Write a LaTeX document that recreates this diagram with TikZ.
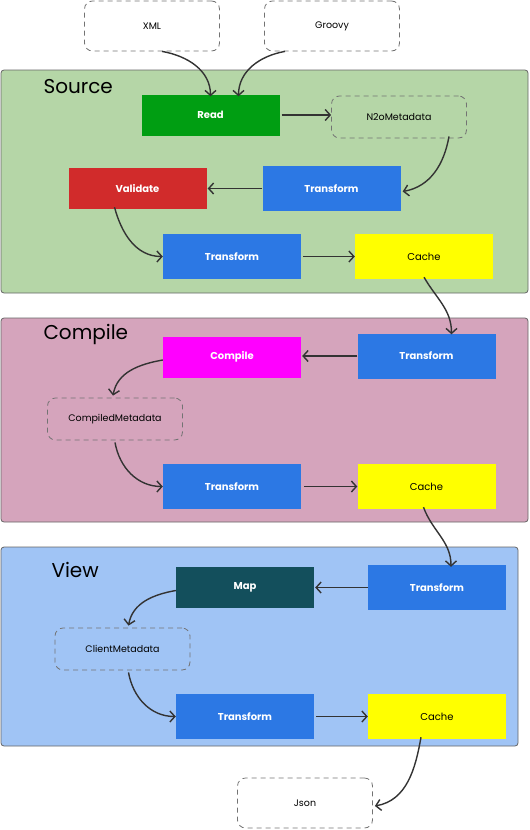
\documentclass[tikz,border=0pt]{standalone}
\usepackage{fontspec}
\setmainfont{Poppins}
\usepackage{xcolor}
\definecolor{PanelGreen}{HTML}{B5D6A7}
\definecolor{PanelPink}{HTML}{D5A4BC}
\definecolor{PanelBlue}{HTML}{A0C4F5}
\definecolor{ReadGreen}{HTML}{009E12}
\definecolor{CheckRed}{HTML}{D12B2B}
\definecolor{StepBlue}{HTML}{2C78E4}
\definecolor{CacheYellow}{HTML}{FFFF00}
\definecolor{CompMagenta}{HTML}{FF00FF}
\definecolor{MapTeal}{HTML}{134F5C}
\definecolor{FlowGray}{HTML}{333333}
\usetikzlibrary{arrows.meta}

\begin{document}
\begin{tikzpicture}[
    x=1pt, y=-1pt,
    panel/.style={draw=black!60, line width=0.8pt, rounded corners=3pt},
    title/.style={anchor=west, font=\fontsize{20}{22}\selectfont},
    box/.style={minimum width=138pt, minimum height=41pt, inner sep=0pt,
        font=\fontsize{10}{12}\selectfont\bfseries, text=white},
    stepbox/.style={box, fill=StepBlue, minimum height=45pt},
    cachebox/.style={box, fill=CacheYellow, text=black, minimum height=45pt,
        font=\fontsize{10}{12}\selectfont},
    databox/.style={draw=black!55, line width=0.8pt, dash pattern=on 5pt off 4pt,
        rounded corners=8pt, minimum width=135pt, minimum height=42pt, inner sep=0pt,
        font=\fontsize{9.5}{11}\selectfont},
    flow/.style={draw=FlowGray, line width=1.4pt,
        -{Straight Barb[length=5pt, width=11pt]}},
]
\useasboundingbox (0,0) rectangle (530,830);

% Panels
\fill[PanelGreen, panel] (1,70) rectangle (528,293);
\fill[PanelPink, panel]  (1,318) rectangle (528,522);
\fill[PanelBlue, panel]  (1,547) rectangle (518,746);
\node[title] (srcT)  at (40,87)  {Source};
\node[title] (compT) at (40,334) {Compile};
\node[title] (viewT) at (48,570) {View};

% Inputs
\node[databox, minimum height=50pt] (xml)    at (152,26) {XML};
\node[databox, minimum height=50pt] (groovy) at (332,26) {Groovy};

% Source stage
\node[box, fill=ReadGreen] (read)     at (210.5,115)   {Read};
\node[databox]             (n2o)      at (399,117)     {N2oMetadata};
\node[stepbox]             (srcTrA)   at (331.5,188.5) {Transform};
\node[box, fill=CheckRed]  (validate) at (137.5,188.5) {Validate};
\node[stepbox]             (srcTrB)   at (232,256.5)   {Transform};
\node[cachebox]            (srcCache) at (424,256.5)   {Cache};

% Compile stage
\node[stepbox]               (compTrA)   at (426.5,356)   {Transform};
\node[box, fill=CompMagenta] (compile)   at (232,357)     {Compile};
\node[databox]               (compMeta)  at (115,419)     {CompiledMetadata};
\node[stepbox]               (compTrB)   at (232,486.5)   {Transform};
\node[cachebox]              (compCache) at (426.5,486.5) {Cache};

% View stage
\node[stepbox]           (viewTrA)   at (437,587.5) {Transform};
\node[box, fill=MapTeal] (map)       at (245,587.5) {Map};
\node[databox]           (cliMeta)   at (122.5,649) {ClientMetadata};
\node[stepbox]           (viewTrB)   at (245,716.5) {Transform};
\node[cachebox]          (viewCache) at (437,716.5) {Cache};

% Output
\node[databox, minimum height=50pt] (json) at (305,803) {Json};

% Connectors
\draw[flow] ([xshift=10pt]xml.south) to[out=-10, in=90] ([yshift=-2pt]read.north);
\draw[flow] ([xshift=-47pt]groovy.south) to[out=190, in=90] ([xshift=28pt, yshift=-2pt]read.north);
\draw[flow] ([xshift=2pt]read.east) -- (n2o.west |- read.east);
\draw[flow] ([xshift=50pt, yshift=2pt]n2o.south) to[out=-100, in=10] ([xshift=2pt, yshift=-3pt]srcTrA.east);
\draw[flow] (srcTrA.west) -- ([xshift=1pt]validate.east);
\draw[flow] ([xshift=-23pt, yshift=2pt]validate.south) to[out=-75, in=180] (srcTrB.west);
\draw[flow] ([xshift=2pt]srcTrB.east) -- (srcCache.west);
\draw[flow] ([yshift=2pt]srcCache.south) to[out=-60, in=90] ([xshift=25pt, yshift=-1pt]compTrA.north);

\draw[flow] (compTrA.west) -- ([xshift=1pt]compile.east |- compTrA.west);
\draw[flow] ([yshift=-3pt]compile.west) to[out=190, in=80] ([xshift=-2pt, yshift=2pt]compMeta.north);
\draw[flow] ([yshift=-2pt]compMeta.south) to[out=-80, in=180] (compTrB.west);
\draw[flow] ([xshift=3pt]compTrB.east) -- (compCache.west);
\draw[flow] ([xshift=-3pt, yshift=2pt]compCache.south) to[out=-70, in=90] ([xshift=14pt, yshift=-2pt]viewTrA.north);

\draw[flow] (viewTrA.west) -- ([xshift=1pt]map.east |- viewTrA.west);
\draw[flow] ([yshift=-3pt]map.west) to[out=190, in=80] ([xshift=6pt, yshift=2pt]cliMeta.north);
\draw[flow] ([xshift=6pt, yshift=-2pt]cliMeta.south) to[out=-80, in=180] (viewTrB.west);
\draw[flow] ([xshift=2pt]viewTrB.east) -- (viewCache.west);
\draw[flow] ([xshift=-16pt, yshift=2pt]viewCache.south) to[out=-100, in=10] ([xshift=2pt, yshift=-3pt]json.east);

\end{tikzpicture}
\end{document}
